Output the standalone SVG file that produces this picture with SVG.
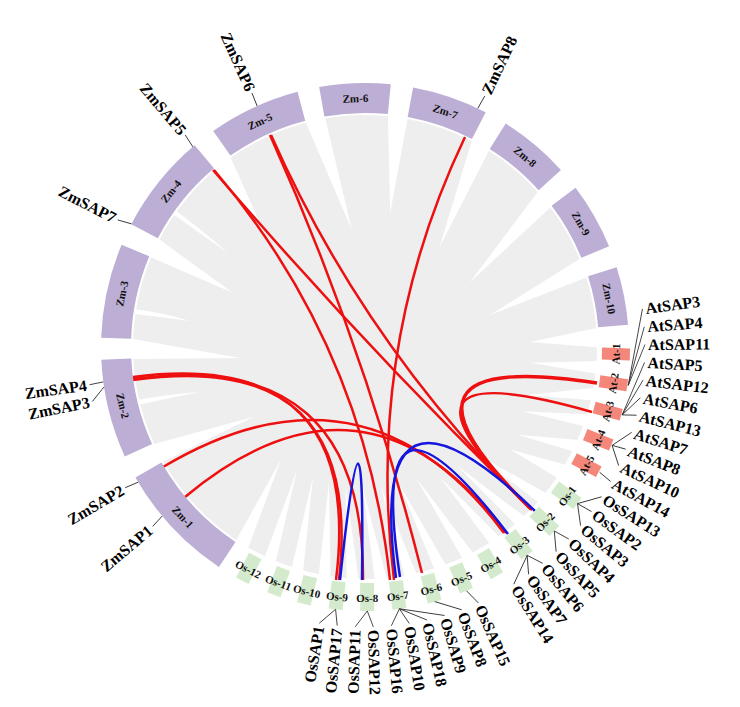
<svg xmlns="http://www.w3.org/2000/svg" width="740" height="707" viewBox="0 0 740 707">
<style>
.band{fill:none;stroke:#bcaed5;stroke-width:30}
.cl{font-family:"Liberation Serif",serif;font-weight:bold;font-size:11px;text-anchor:middle;dominant-baseline:central;fill:#111}
.g{font-family:"Liberation Serif",serif;font-weight:bold;font-size:16px;dominant-baseline:central;fill:#000}
.l{text-anchor:end}.r{text-anchor:start}
.ld{stroke:#222;stroke-width:0.8;fill:none}
.at{fill:#f4877a}.os{fill:#d3ebcc}
.gap{fill:#fff}
.red{fill:none;stroke:#ee1010;stroke-width:2.5}
.thk{stroke-width:3.5}
.blue{fill:none;stroke:#1515dd;stroke-width:2.5}
</style>
<rect width="740" height="707" fill="#fff"/>
<g id="background">
<circle cx="365" cy="347" r="232" fill="#eeeeee"/>
<g class="gap">
<path d="M354.7,111.2 L353.5,215.5 L375.3,111.2 Z" transform="rotate(242.95 365 347)"/>
<path d="M354.7,111.2 L354.9,221.9 L375.3,111.2 Z" transform="rotate(269.6 365 347)"/>
<path d="M354.7,111.2 L357.5,204.2 L375.3,111.2 Z" transform="rotate(295.25 365 347)"/>
<path d="M354.7,111.2 L354.5,197.4 L375.3,111.2 Z" transform="rotate(322.35 365 347)"/>
<path d="M354.7,111.2 L377.3,229.6 L375.3,111.2 Z" transform="rotate(347.6 365 347)"/>
<path d="M354.7,111.2 L371.2,211.1 L375.3,111.2 Z" transform="rotate(8.05 365 347)"/>
<path d="M354.7,111.2 L380.2,222.9 L375.3,111.2 Z" transform="rotate(29.7 365 347)"/>
<path d="M354.7,111.2 L382.1,225.2 L375.3,111.2 Z" transform="rotate(50.4 365 347)"/>
<path d="M354.7,111.2 L377.6,218.6 L375.3,111.2 Z" transform="rotate(70 365 347)"/>
<path d="M354.7,111.2 L366.7,182 L375.3,111.2 Z" transform="rotate(87.7 365 347)"/>
<path d="M358.4,111.1 L366.4,181 L371.6,111.1 Z" transform="rotate(95 365 347)"/>
<path d="M358.4,111.1 L379.7,178.6 L371.6,111.1 Z" transform="rotate(101.5 365 347)"/>
<path d="M358.4,111.1 L376.9,177.4 L371.6,111.1 Z" transform="rotate(108.2 365 347)"/>
<path d="M358.4,111.1 L380.3,171.7 L371.6,111.1 Z" transform="rotate(114.9 365 347)"/>
<path d="M356.8,111.1 L374.3,169.2 L373.2,111.1 Z" transform="rotate(122.2 365 347)"/>
<path d="M358.8,111.1 L375.5,197.4 L371.2,111.1 Z" transform="rotate(130.3 365 347)"/>
<path d="M358.8,111.1 L375.5,197.4 L371.2,111.1 Z" transform="rotate(138.15 365 347)"/>
<path d="M358.8,111.1 L375.5,197.4 L371.2,111.1 Z" transform="rotate(146.05 365 347)"/>
<path d="M358.8,111.1 L377.2,207.5 L371.2,111.1 Z" transform="rotate(153.7 365 347)"/>
<path d="M358.8,111.1 L377.2,207.5 L371.2,111.1 Z" transform="rotate(161.05 365 347)"/>
<path d="M358.8,111.1 L377.2,207.5 L371.2,111.1 Z" transform="rotate(168.6 365 347)"/>
<path d="M358.8,111.1 L377.2,207.5 L371.2,111.1 Z" transform="rotate(176 365 347)"/>
<path d="M358.8,111.1 L377.2,207.5 L371.2,111.1 Z" transform="rotate(182.95 365 347)"/>
<path d="M358.8,111.1 L377.2,207.5 L371.2,111.1 Z" transform="rotate(189.9 365 347)"/>
<path d="M358.8,111.1 L377.2,207.5 L371.2,111.1 Z" transform="rotate(196.8 365 347)"/>
<path d="M358.8,111.1 L377.2,207.5 L371.2,111.1 Z" transform="rotate(203.95 365 347)"/>
<path d="M357.6,111.1 L377.2,207.5 L372.4,111.1 Z" transform="rotate(211.8 365 347)"/>
<path d="M134,309 Q165,313 190,321 Q163,317 134,314 Z"/>
<path d="M137,400 Q170,394 200,392 Q170,398 137,405 Z"/>
<path d="M172,208 Q200,228 228,253 Q198,232 170,212 Z"/>
</g>
</g>
<g id="connectors">
<path class="red" d="M270,135 Q365,347 422,573"/>
<path class="red" d="M271,135 Q365,347 532,510"/>
<path class="red" d="M213,170 Q365,347 530,508"/>
<path class="red" d="M214,170 Q365,347 390,580"/>
<path class="red" d="M465,137 Q365,347 394,580"/>
<path class="red" d="M133,377 Q365,347 336,580"/>
<path class="red" d="M133,380 Q365,347 339,580"/>
<path class="red" d="M133,379 Q365,347 363,580"/>
<path class="red" d="M163,467 Q365,347 504,533"/>
<path class="red" d="M185,497 Q365,347 506,533"/>
<path class="red thk" d="M597,383 Q365,347 531,509"/>
<path class="red" d="M592,412 Q365,347 529,507"/>
<path class="blue" d="M340,580 Q365,347 362,580"/>
<path class="blue" d="M396,578 Q365,347 535,511"/>
<path class="blue" d="M400,577 Q365,347 508,534"/>
</g>
<g id="Zm-1">
<circle class="band" cx="365" cy="347" r="249" stroke-dasharray="116.47 2000" transform="rotate(123.6 365 347)"/>
<text class="cl" x="365" y="98" transform="rotate(227 365 347) rotate(180 365 98)">Zm-1</text>
<g transform="rotate(-40.2 365 347)"><line class="ld" x1="101" y1="345.2" x2="87" y2="347"/><text class="g l" x="84" y="347">ZmSAP1</text></g>
<g transform="rotate(-30.4 365 347)"><line class="ld" x1="101" y1="348.8" x2="87" y2="347"/><text class="g l" x="84" y="347">ZmSAP2</text></g>
</g>
<g id="Zm-2">
<circle class="band" cx="365" cy="347" r="249" stroke-dasharray="94.31 2000" transform="rotate(155.5 365 347)"/>
<text class="cl" x="365" y="98" transform="rotate(256.35 365 347) rotate(180 365 98)">Zm-2</text>
<g transform="rotate(-11.3 365 347)"><line class="ld" x1="101.3" y1="335" x2="87" y2="347"/><text class="g l" x="84" y="347">ZmSAP3</text></g>
<g transform="rotate(-7.8 365 347)"><line class="ld" x1="101" y1="346.1" x2="87" y2="347"/><text class="g l" x="84" y="347">ZmSAP4</text></g>
</g>
<g id="Zm-3">
<circle class="band" cx="365" cy="347" r="249" stroke-dasharray="90.39 2000" transform="rotate(182 365 347)"/>
<text class="cl" x="365" y="98" transform="rotate(282.4 365 347)">Zm-3</text>
</g>
<g id="Zm-4">
<circle class="band" cx="365" cy="347" r="249" stroke-dasharray="96.04 2000" transform="rotate(207.7 365 347)"/>
<text class="cl" x="365" y="98" transform="rotate(308.75 365 347)">Zm-4</text>
<g transform="rotate(27.2 365 347)"><line class="ld" x1="101" y1="344.2" x2="87" y2="347"/><text class="g l" x="84" y="347">ZmSAP7</text></g>
<g transform="rotate(49.7 365 347)"><line class="ld" x1="101" y1="348.8" x2="87" y2="347"/><text class="g l" x="84" y="347">ZmSAP5</text></g>
</g>
<g id="Zm-5">
<circle class="band" cx="365" cy="347" r="249" stroke-dasharray="88.22 2000" transform="rotate(234.9 365 347)"/>
<text class="cl" x="365" y="98" transform="rotate(335.05 365 347)">Zm-5</text>
<g transform="rotate(66 365 347)"><line class="ld" x1="101" y1="347.5" x2="87" y2="347"/><text class="g l" x="84" y="347">ZmSAP6</text></g>
</g>
<g id="Zm-6">
<circle class="band" cx="365" cy="347" r="249" stroke-dasharray="67.80 2000" transform="rotate(260 365 347)"/>
<text class="cl" x="365" y="98" transform="rotate(357.8 365 347)">Zm-6</text>
</g>
<g id="Zm-7">
<circle class="band" cx="365" cy="347" r="249" stroke-dasharray="72.58 2000" transform="rotate(-79.5 365 347)"/>
<text class="cl" x="365" y="98" transform="rotate(18.85 365 347)">Zm-7</text>
<g transform="rotate(-64.5 365 347)"><line class="ld" x1="629" y1="346.1" x2="643" y2="347"/><text class="g r" x="646" y="347">ZmSAP8</text></g>
</g>
<g id="Zm-8">
<circle class="band" cx="365" cy="347" r="249" stroke-dasharray="68.23 2000" transform="rotate(-57.8 365 347)"/>
<text class="cl" x="365" y="98" transform="rotate(40.05 365 347)">Zm-8</text>
</g>
<g id="Zm-9">
<circle class="band" cx="365" cy="347" r="249" stroke-dasharray="63.88 2000" transform="rotate(-37.1 365 347)"/>
<text class="cl" x="365" y="98" transform="rotate(60.25 365 347)">Zm-9</text>
</g>
<g id="Zm-10">
<circle class="band" cx="365" cy="347" r="249" stroke-dasharray="55.63 2000" transform="rotate(-17.6 365 347)"/>
<text class="cl" x="365" y="98" transform="rotate(78.8 365 347)">Zm-10</text>
</g>
<g id="At-1">
<rect class="at" x="359" y="82" width="12" height="28" transform="rotate(91.6 365 347)"/>
<text class="cl" x="365" y="96" transform="rotate(91.6 365 347) rotate(180 365 96)">At-1</text>
</g>
<g id="At-2">
<rect class="at" x="359" y="82" width="12" height="28" transform="rotate(98.3 365 347)"/>
<text class="cl" x="365" y="96" transform="rotate(98.3 365 347) rotate(180 365 96)">At-2</text>
<g transform="rotate(-7.8 365 347)"><line class="ld" x1="620.6" y1="420.8" x2="645" y2="347"/><text class="g r" x="648" y="347">AtSAP3</text></g>
<g transform="rotate(-4.15 365 347)"><line class="ld" x1="624.7" y1="404.3" x2="645" y2="347"/><text class="g r" x="648" y="347">AtSAP4</text></g>
<g transform="rotate(-0.5 365 347)"><line class="ld" x1="627.9" y1="387.7" x2="645" y2="347"/><text class="g r" x="648" y="347">AtSAP11</text></g>
</g>
<g id="At-3">
<rect class="at" x="359" y="82" width="12" height="28" transform="rotate(104.8 365 347)"/>
<text class="cl" x="365" y="96" transform="rotate(104.8 365 347) rotate(180 365 96)">At-3</text>
<g transform="rotate(3.15 365 347)"><line class="ld" x1="625.5" y1="400.7" x2="645" y2="347"/><text class="g r" x="648" y="347">AtSAP5</text></g>
<g transform="rotate(6.8 365 347)"><line class="ld" x1="628.4" y1="384" x2="645" y2="347"/><text class="g r" x="648" y="347">AtSAP12</text></g>
<g transform="rotate(10.45 365 347)"><line class="ld" x1="630.2" y1="367.2" x2="645" y2="347"/><text class="g r" x="648" y="347">AtSAP6</text></g>
<g transform="rotate(14.1 365 347)"><line class="ld" x1="631" y1="350.2" x2="645" y2="347"/><text class="g r" x="648" y="347">AtSAP13</text></g>
</g>
<g id="At-4">
<rect class="at" x="359" y="82" width="12" height="28" transform="rotate(111.7 365 347)"/>
<text class="cl" x="365" y="96" transform="rotate(111.7 365 347) rotate(180 365 96)">At-4</text>
<g transform="rotate(17.75 365 347)"><line class="ld" x1="630.4" y1="365.3" x2="645" y2="347"/><text class="g r" x="648" y="347">AtSAP7</text></g>
<g transform="rotate(21.4 365 347)"><line class="ld" x1="631" y1="348.4" x2="645" y2="347"/><text class="g r" x="648" y="347">AtSAP8</text></g>
<g transform="rotate(25.05 365 347)"><line class="ld" x1="630.5" y1="331.5" x2="645" y2="347"/><text class="g r" x="648" y="347">AtSAP10</text></g>
</g>
<g id="At-5">
<rect class="at" x="359" y="82" width="12" height="28" transform="rotate(118.1 365 347)"/>
<text class="cl" x="365" y="96" transform="rotate(118.1 365 347) rotate(180 365 96)">At-5</text>
<g transform="rotate(28.7 365 347)"><line class="ld" x1="631" y1="344.2" x2="645" y2="347"/><text class="g r" x="648" y="347">AtSAP14</text></g>
</g>
<g id="Os-1">
<rect class="os" x="358" y="83" width="14" height="28" transform="rotate(126.4 365 347)"/>
<text class="cl" x="365" y="96" transform="rotate(126.4 365 347) rotate(180 365 96)">Os-1</text>
<g transform="rotate(32.35 365 347)"><line class="ld" x1="628.3" y1="365.6" x2="645" y2="347"/><text class="g r" x="648" y="347">OsSAP13</text></g>
<g transform="rotate(36 365 347)"><line class="ld" x1="629" y1="348.8" x2="645" y2="347"/><text class="g r" x="648" y="347">OsSAP2</text></g>
<g transform="rotate(39.65 365 347)"><line class="ld" x1="628.6" y1="332" x2="645" y2="347"/><text class="g r" x="648" y="347">OsSAP3</text></g>
</g>
<g id="Os-2">
<rect class="os" x="358" y="83" width="14" height="28" transform="rotate(134.2 365 347)"/>
<text class="cl" x="365" y="96" transform="rotate(134.2 365 347) rotate(180 365 96)">Os-2</text>
<g transform="rotate(43.3 365 347)"><line class="ld" x1="629" y1="351.1" x2="645" y2="347"/><text class="g r" x="648" y="347">OsSAP4</text></g>
<g transform="rotate(46.95 365 347)"><line class="ld" x1="628.7" y1="334.3" x2="645" y2="347"/><text class="g r" x="648" y="347">OsSAP5</text></g>
</g>
<g id="Os-3">
<rect class="os" x="358" y="83" width="14" height="28" transform="rotate(142.1 365 347)"/>
<text class="cl" x="365" y="96" transform="rotate(142.1 365 347) rotate(180 365 96)">Os-3</text>
<g transform="rotate(50.6 365 347)"><line class="ld" x1="628.9" y1="353.9" x2="645" y2="347"/><text class="g r" x="648" y="347">OsSAP6</text></g>
<g transform="rotate(54.25 365 347)"><line class="ld" x1="628.8" y1="337.1" x2="645" y2="347"/><text class="g r" x="648" y="347">OsSAP7</text></g>
<g transform="rotate(57.9 365 347)"><line class="ld" x1="627.7" y1="320.3" x2="645" y2="347"/><text class="g r" x="648" y="347">OsSAP14</text></g>
</g>
<g id="Os-4">
<rect class="os" x="358" y="83" width="14" height="28" transform="rotate(150 365 347)"/>
<text class="cl" x="365" y="96" transform="rotate(150 365 347) rotate(180 365 96)">Os-4</text>
</g>
<g id="Os-5">
<rect class="os" x="358" y="83" width="14" height="28" transform="rotate(157.4 365 347)"/>
<text class="cl" x="365" y="96" transform="rotate(157.4 365 347) rotate(180 365 96)">Os-5</text>
<g transform="rotate(66.1 365 347)"><line class="ld" x1="629" y1="353" x2="645" y2="347"/><text class="g r" x="648" y="347">OsSAP15</text></g>
</g>
<g id="Os-6">
<rect class="os" x="358" y="83" width="14" height="28" transform="rotate(164.7 365 347)"/>
<text class="cl" x="365" y="96" transform="rotate(164.7 365 347) rotate(180 365 96)">Os-6</text>
<g transform="rotate(69.8 365 347)"><line class="ld" x1="628" y1="369.5" x2="645" y2="347"/><text class="g r" x="648" y="347">OsSAP8</text></g>
</g>
<g id="Os-7">
<rect class="os" x="358" y="83" width="14" height="28" transform="rotate(172.5 365 347)"/>
<text class="cl" x="365" y="96" transform="rotate(172.5 365 347) rotate(180 365 96)">Os-7</text>
<g transform="rotate(73.5 365 347)"><line class="ld" x1="625.8" y1="388.3" x2="645" y2="347"/><text class="g r" x="648" y="347">OsSAP9</text></g>
<g transform="rotate(77.2 365 347)"><line class="ld" x1="627.9" y1="371.4" x2="645" y2="347"/><text class="g r" x="648" y="347">OsSAP18</text></g>
<g transform="rotate(80.9 365 347)"><line class="ld" x1="629" y1="354.4" x2="645" y2="347"/><text class="g r" x="648" y="347">OsSAP10</text></g>
<g transform="rotate(84.6 365 347)"><line class="ld" x1="628.8" y1="337.3" x2="645" y2="347"/><text class="g r" x="648" y="347">OsSAP16</text></g>
</g>
<g id="Os-8">
<rect class="os" x="358" y="83" width="14" height="28" transform="rotate(179.5 365 347)"/>
<text class="cl" x="365" y="96" transform="rotate(179.5 365 347) rotate(180 365 96)">Os-8</text>
<g transform="rotate(88.3 365 347)"><line class="ld" x1="629" y1="352.5" x2="645" y2="347"/><text class="g r" x="648" y="347">OsSAP12</text></g>
<g transform="rotate(-88 365 347)"><line class="ld" x1="101.3" y1="358.5" x2="85" y2="347"/><text class="g l" x="82" y="347">OsSAP11</text></g>
</g>
<g id="Os-9">
<rect class="os" x="358" y="83" width="14" height="28" transform="rotate(186.4 365 347)"/>
<text class="cl" x="365" y="96" transform="rotate(186.4 365 347) rotate(180 365 96)">Os-9</text>
<g transform="rotate(-84.3 365 347)"><line class="ld" x1="101" y1="343.8" x2="85" y2="347"/><text class="g l" x="82" y="347">OsSAP17</text></g>
<g transform="rotate(-80.6 365 347)"><line class="ld" x1="101.4" y1="360.8" x2="85" y2="347"/><text class="g l" x="82" y="347">OsSAP1</text></g>
</g>
<g id="Os-10">
<rect class="os" x="358" y="83" width="14" height="28" transform="rotate(193.4 365 347)"/>
<text class="cl" x="365" y="96" transform="rotate(193.4 365 347) rotate(180 365 96)">Os-10</text>
</g>
<g id="Os-11">
<rect class="os" x="358" y="83" width="14" height="28" transform="rotate(200.2 365 347)"/>
<text class="cl" x="365" y="96" transform="rotate(200.2 365 347) rotate(180 365 96)">Os-11</text>
</g>
<g id="Os-12">
<rect class="os" x="358" y="83" width="14" height="28" transform="rotate(207.7 365 347)"/>
<text class="cl" x="365" y="96" transform="rotate(207.7 365 347) rotate(180 365 96)">Os-12</text>
</g>
</svg>
